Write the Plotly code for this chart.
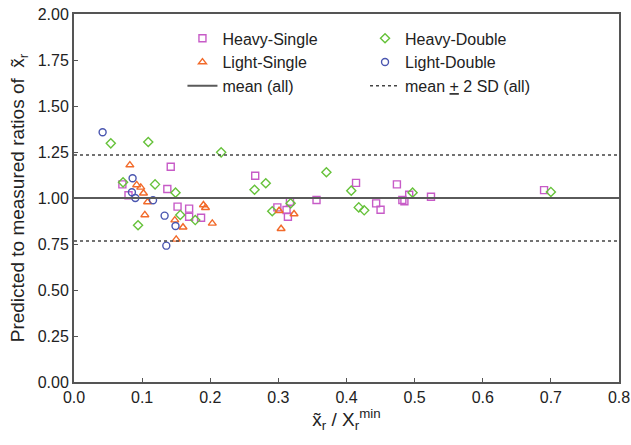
import plotly.graph_objects as go

# ---- data ----
hs_x = [0.071, 0.080, 0.142, 0.137, 0.152, 0.169, 0.169, 0.1865, 0.266, 0.2985, 0.312, 0.314, 0.317,
        0.356, 0.414, 0.4435, 0.450, 0.474, 0.482, 0.485, 0.492, 0.524, 0.690]
hs_y = [1.074, 1.015, 1.170, 1.049, 0.953, 0.942, 0.898, 0.893, 1.121, 0.949, 0.935, 0.898, 0.980,
        0.989, 1.082, 0.971, 0.936, 1.074, 0.989, 0.982, 1.018, 1.007, 1.043]

hd_x = [0.054, 0.109, 0.216, 0.072, 0.119, 0.149, 0.156, 0.178, 0.094, 0.265, 0.2815, 0.3705,
        0.291, 0.318, 0.407, 0.418, 0.426, 0.497, 0.700]
hd_y = [1.297, 1.304, 1.248, 1.085, 1.074, 1.029, 0.908, 0.880, 0.852, 1.045, 1.080, 1.140,
        0.928, 0.971, 1.040, 0.949, 0.933, 1.029, 1.033]

ls_x = [0.082, 0.092, 0.098, 0.102, 0.108, 0.104, 0.148, 0.160, 0.190, 0.193, 0.203, 0.150,
        0.301, 0.323, 0.304]
ls_y = [1.179, 1.071, 1.058, 1.026, 0.978, 0.908, 0.880, 0.841, 0.962, 0.947, 0.862, 0.775,
        0.931, 0.913, 0.833]

ld_x = [0.042, 0.086, 0.085, 0.090, 0.116, 0.133, 0.149, 0.1355]
ld_y = [1.357, 1.107, 1.031, 1.000, 0.988, 0.904, 0.848, 0.741]

mean_all = 1.0
sd2_all = 0.234
x_range = [0.0, 0.8]

x_ticks = [0.0, 0.1, 0.2, 0.3, 0.4, 0.5, 0.6, 0.7, 0.8]
y_ticks = [0.0, 0.25, 0.5, 0.75, 1.0, 1.25, 1.5, 1.75, 2.0]

FONT = "Liberation Sans, Arial, Helvetica, sans-serif"
AX = "#555555"

fig = go.Figure()

def pts(name, x, y, sym, col, leg):
    fig.add_trace(go.Scatter(
        x=x, y=y, mode="markers", name=name, legend=leg,
        marker=dict(symbol=sym, size=7, color=col,
                    line=dict(color=col, width=1.4)),
    ))

pts("Heavy-Single", hs_x, hs_y, "square-open", "#C75BC7", "legend")
pts("Heavy-Double", hd_x, hd_y, "diamond-open", "#66C23A", "legend2")
pts("Light-Single", ls_x, ls_y, "triangle-up-open", "#F26A2A", "legend")
pts("Light-Double", ld_x, ld_y, "circle-open", "#4A56B0", "legend2")

fig.add_trace(go.Scatter(
    x=x_range, y=[mean_all, mean_all], mode="lines", name="mean (all)", legend="legend",
    line=dict(color="#5a5a5a", width=2)))
fig.add_trace(go.Scatter(
    x=x_range + [None] + x_range,
    y=[mean_all + sd2_all] * 2 + [None] + [mean_all - sd2_all] * 2,
    mode="lines", name="mean <u>+</u> 2 SD (all)", legend="legend2",
    line=dict(color="#444444", width=1.5, dash="dot")))

leg_common = dict(font=dict(family=FONT, size=16, color="#222222"),
                  bgcolor="rgba(0,0,0,0)", yanchor="top", xanchor="left",
                  tracegroupgap=0)

fig.update_layout(
    width=631, height=445,
    margin=dict(l=74, r=12, t=14, b=63),
    paper_bgcolor="white", plot_bgcolor="white",
    font=dict(family=FONT, size=16, color="#222222"),
    legend=dict(x=0.199, y=0.98, **leg_common),
    legend2=dict(x=0.534, y=0.98, **leg_common),
    xaxis=dict(range=x_range, tickvals=x_ticks, tickformat=".1f", automargin=False,
               showline=True, linecolor=AX, linewidth=2, mirror=True,
               ticks="inside", ticklen=4, tickcolor=AX, showgrid=False, zeroline=False,
               tickfont=dict(size=16), ticklabeloverflow="allow",
               title=dict(text="x̃<sub>r</sub> / X<sub>r</sub><sup>min</sup>",
                          font=dict(size=19), standoff=6)),
    yaxis=dict(range=[0, 2], tickvals=y_ticks, tickformat=".2f", automargin=False,
               showline=True, linecolor=AX, linewidth=2, mirror=True,
               ticks="inside", ticklen=4, tickcolor=AX, showgrid=False, zeroline=False,
               tickfont=dict(size=16), ticklabeloverflow="allow",
               title=dict(text="Predicted to measured ratios of  x̃<sub>r</sub>",
                          font=dict(size=19), standoff=8)),
)

fig.write_html("out.html", config={"displayModeBar": False},
               post_script="document.body.style.margin='0';")
